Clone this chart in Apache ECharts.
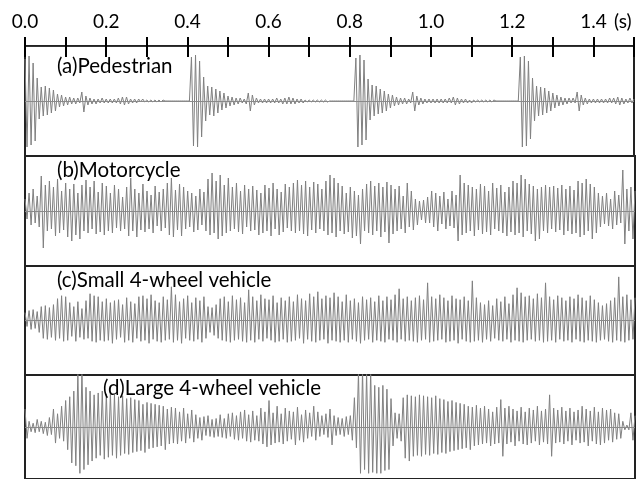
<!DOCTYPE html>
<html>
<head>
<meta charset="utf-8">
<script src="https://cdn.jsdelivr.net/npm/echarts@6/dist/echarts.min.js"></script>
<style>html,body{margin:0;padding:0;background:#fff}#c{width:637px;height:479px}</style>
</head>
<body>
<div id="c"></div>
<script>
// time step between samples (s)
const dt = 0.005;
const tickLabels = ['0.0','0.2','0.4','0.6','0.8','1.0','1.2','1.4'];
const unitLabel = '(s)';
const panelTitles = ['(a)Pedestrian','(b)Motorcycle','(c)Small 4-wheel vehicle','(d)Large 4-wheel vehicle'];

// (a) Pedestrian: four footsteps
const stepA1 = [42,-46,45,-44,38,-40,23,-18,14,-15, 15,-14,13,-12,11,-10,7,-6,6,-5, 4,-4,4,-3,3,-3,3,-2,9,-11,
  5,-4,3,-3,2,-3,2,-2,3,-2, 2,-2,2,-2,2,-2,3,-3,4,-4, 4,-3,2,-2,2,-2,2,-1,2,-1, 1,-1,1,-1,1,-1,1,-1,1,0,
  0,0,0,0,0,0,0,0,0,0,0,0];
const stepA2 = [44,-45,46,-46,40,-36,24,-20,15,-14, 14,-15,12,-12,10,-9,8,-7,5,-5, 4,-4,3,-3,3,-2,2,-3,8,-10,
  6,-4,3,-2,2,-2,2,-2,2,-2, 2,-2,3,-2,2,-3,3,-3,4,-3, 3,-3,2,-2,2,-2,1,-1,1,-1, 1,-1,1,-1,1,-1,1,-1,0,0,
  0,0,0,0,0,0,0,0,0,0,0];
const stepA3 = [43,-46,46,-44,41,-39,22,-19,16,-15, 15,-13,12,-12,10,-10,7,-7,6,-5, 4,-4,3,-3,3,-3,2,-2,9,-10,
  5,-4,3,-3,2,-2,2,-2,2,-2, 2,-2,2,-2,2,-2,3,-2,4,-4, 3,-3,2,-2,2,-2,1,-2,1,-1, 1,-1,1,-1,1,-1,1,-1,1,0,
  0,0,0,0,0,0,0,0,0,0,0];
const stepA4 = [44,-46,45,-45,40,-38,23,-20,15,-15, 14,-14,13,-12,10,-10,8,-7,6,-5, 4,-4,3,-3,3,-2,3,-2,9,-10,
  6,-4,3,-3,2,-2,2,-2,2,-2, 2,-2,2,-2,3,-2,3,-3,4,-4, 3,-3,2,-2,3,-2,2];

// (b) Motorcycle
const motorcycle = [12,-8,18,-14,22,-12,15,-16,35,-37, 26,-20,30,-18,24,-25,32,-22,20,-19,
  28,-26,22,-30,27,-24,18,-28,26,-20, 31,-22,24,-18,30,-23,19,-21,28,-24,
  25,-20,18,-22,26,-17,22,-20,14,-18, 24,-25,33,-20,22,-26,18,-19,27,-21,
  20,-18,16,-22,25,-15,19,-20,22,-17, 28,-24,33,-26,21,-19,27,-25,24,-18,
  20,-16,18,-21,15,-19,22,-14,19,-20, 32,-24,38,-22,30,-28,36,-25,26,-22,33,-20,
  24,-18,28,-21,20,-23,26,-16,22,-20,25,-19,21,-24,18, -22,26,-20,23,-25,28,-18,22,-24,19,-21,27,-17,24,-20,
  28,-22,31,-20,26,-23,30,-25,24,-19,29,-22,27,-18, 22,-20,30,-24,36,-22,33,-26,28,-20,25,-23,
  18,-21,24,-27,20,-25,16,-33,22,-20, 27,-22,30,-24,25,-20,28,-26,24,-21,29,-32,26,-23,22,
  -20,25,-18,15,-22,28,-16,20,-19,12,-14,10,-9,11,-12, 14,-12,20,-16,18,-20,15,-13,19,-18,12,-15,20,-17,16,-30,36,
  -24,28,-22,26,-20,24,-25,22, -19,27,-23,25,-21,20,-24,28,-18,23,-20,26,-22,19,-25,24,-21,
  30,-24,28,-22,36,-26,32,-20,27,-23,25,-30,22,-28,24, -20,26,-22,24,-18,25,-21,23,-19,26,-24,22,-20,25,-23,21,-22,
  30,-26,28,-24,32,-20,27,-28,24,-22,18,-16, 15,-13,18,-15,12,-18,20,-14,16,-12, 41,-33,22,-20,24,-28,20];

// (c) Small 4-wheel vehicle
const smallVehicle = [8,-6,10,-9,11,-8,9,-12,14,-18, 15,-19,13,-17,16,-20,22,-18,25,-21,
  24,-20,18,-16,14,-21,19,-17,12,-19, 20,-18,27,-21,25,-22,24,-20,19,-21,
  22,-20,18,-23,20,-19,21,-17,16,-22, 23,-20,19,-22,17,-18,24,-21,25,-20,
  22,-23,26,-19,20,-21,18,-22,24,-20, 21,-19,34,-22,26,-20,19,-23,22,-18,
  25,-20,18,-21,23,-19,20,-22,24,-18, 14,-12,13,-15,16,-18,22,-20,24,-21,
  19,-22,25,-20,21,-19,23,-21,18,-22, 31,-20,24,-22,20,-19,26,-21,22,-18,
  21,-20,25,-22,18,-21,23,-19,20,-22, 24,-21,19,-20,26,-18,22,-23,20,-19,
  27,-21,24,-22,29,-20,22,-19,25,-23, 23,-20,28,-21,24,-22,19,-20,26,-22,
  20,-19,22,-21,18,-23,24,-20,21,-19, 23,-22,19,-20,25,-21,20,-22,24,-19,
  21,-20,26,-22,32,-19,22,-21,24,-20, 20,-21,23,-22,25,-20,21,-19,38,-22,
  24,-21,22,-20,26,-19,23,-22,20,-21, 25,-20,22,-23,21,-19,24,-21,20,-22,
  40,-21,23,-20,18,-22,16,-19,20,-21, 15,-18,22,-20,19,-21,24,-19,17,-22,
  26,-20,33,-21,28,-22,24,-20,25,-19, 22,-21,27,-20,23,-22,38,-21,24,-20,
  21,-22,25,-19,23,-21,20,-20,24,-22, 22,-19,26,-21,23,-22,20,-20,25,-21,
  21,-22,18,-20,15,-19,17,-21,20,-22, 23,-20,44,-21,24,-22,26,-20,21,-19,23];

// (d) Large 4-wheel vehicle
const largeVehicle = [19,-12,6,-5,4,-6,8,-5,6,-7,5,-9,10,-8,19,
  -17,14,-12,22,-15,28,-24,32,-38,38, -41,58,-49,60,-45,42,-40,38,-36,34,
  -33,36,-30,38,-34,35,-32,36,-30,34, -33,32,-30,33,-28,30,-29,31,-27,29,
  -26,28,-25,24,-27,26,-23,25,-22,24, -21,23,-20,22,-24,19,-18,21,-17,20,
  -18,16,-15,20,-17,14,-12,18,-16,13, -12,10,-14,11,-9,12,-10,8,-11,9,
  -10,13,-11,9,-12,14,-10,15,-13,12, -14,16,-12,18,-15,13,-16,17,-14,12,
  -15,20,-18,16,-21,28,-19,15,-17,22, -16,14,-18,20,-15,17,-13,16,-19,21,
  -14,13,-16,18,-12,15,-10,22,-14,16, -10,12,-8,14,-11,19,-19,12,-9,10,
  -8,9,-10,11,-8,12,-14,31,-22,58, -49,60,-45,58,-49,60,-48,44,-49,42,
  -49,44,-46,40,-45,30,-20,15,-12,14, -15,31,-33,34,-36,33,-31,32,-30,34,
  -31,33,-29,32,-30,31,-28,33,-29,30, -27,29,-28,27,-26,28,-25,26,-24,25,
  -23,24,-22,22,-24,21,-20,23,-19,20, -18,22,-17,19,-20,16,-18,21,-17,29,
  -31,20,-18,22,-16,19,-20,17,-15,21, -18,16,-19,20,-17,18,-15,22,-19,17,
  -16,19,-18,34,-31,20,-17,18,-16,21, -18,17,-15,20,-19,16,-14,18,-17,22,
  -16,19,-20,17,-15,21,-18,16,-19,20, -17,18,-14,19,-16,15,-13,14,-12,6,
  -3,2,-3,15,-14,12];

const pedestrian = stepA1.concat(stepA2, stepA3, stepA4);
const panels = [pedestrian, motorcycle, smallVehicle, largeVehicle];

const chart = echarts.init(document.getElementById('c'), null, {renderer: 'canvas'});
const FONT = 'Lato';
const tops = [46, 156, 266, 375];
const heights = [110, 110, 109, 110];

const grids = tops.map((t, i) => ({
  left: 25, width: 610, top: t, height: heights[i],
  show: true, borderColor: '#222', borderWidth: 2, backgroundColor: 'transparent'
}));

const xAxes = [
  {
    gridIndex: 0, type: 'value', min: 0, max: 1.5, interval: 0.1, position: 'top',
    axisLine: {show: true, onZero: false, lineStyle: {color: '#333', width: 1}},
    axisTick: {show: true, inside: false, length: 9, lineStyle: {color: '#000', width: 2}},
    splitLine: {show: false},
    axisLabel: {
      show: true, margin: 24, verticalAlign: 'middle', color: '#000',
      fontFamily: FONT, fontSize: 19,
      formatter: function (v) {
        const k = Math.round(v * 10);
        if (k % 2 !== 0) return '';
        return tickLabels[k / 2] || '';
      }
    }
  },
  {
    gridIndex: 0, type: 'value', min: 0, max: 1.5, interval: 0.1, position: 'top',
    axisLine: {show: false, onZero: false},
    axisTick: {show: true, inside: true, length: 11, lineStyle: {color: '#000', width: 2}},
    splitLine: {show: false}, axisLabel: {show: false}
  }
];
for (let g = 1; g < 4; g++) {
  xAxes.push({gridIndex: g, type: 'value', min: 0, max: 1.5, show: false});
}
const yAxes = [0, 1, 2, 3].map(g => ({gridIndex: g, type: 'value', min: -55, max: 55, show: false}));

const series = panels.map((vals, g) => ({
  type: 'line',
  xAxisIndex: g === 0 ? 0 : g + 1,
  yAxisIndex: g,
  data: vals.map((v, i) => [i * dt, v]),
  symbol: 'none',
  clip: true,
  lineStyle: {color: '#808080', width: 1},
  animation: false,
  markLine: {
    silent: true, symbol: 'none', animation: false,
    label: {show: false},
    lineStyle: {color: '#8a8a8a', width: 1, type: 'solid'},
    data: [{yAxis: 0}]
  }
}));

const titlePos = [[57, 66], [57, 170], [57, 280], [103, 388]];
const graphics = panelTitles.map((t, i) => ({
  type: 'text', x: titlePos[i][0], y: titlePos[i][1], z: 100,
  style: {text: t, font: '20.5px ' + FONT, fill: '#000', textVerticalAlign: 'middle', textAlign: 'left'}
}));
graphics.push({
  type: 'text', x: 614, y: 22, z: 100,
  style: {text: unitLabel, font: '19px ' + FONT, fill: '#000', textVerticalAlign: 'middle', textAlign: 'left'}
});

chart.setOption({
  animation: false,
  backgroundColor: '#fff',
  grid: grids,
  xAxis: xAxes,
  yAxis: yAxes,
  series: series,
  graphic: graphics
});
</script>
</body>
</html>
